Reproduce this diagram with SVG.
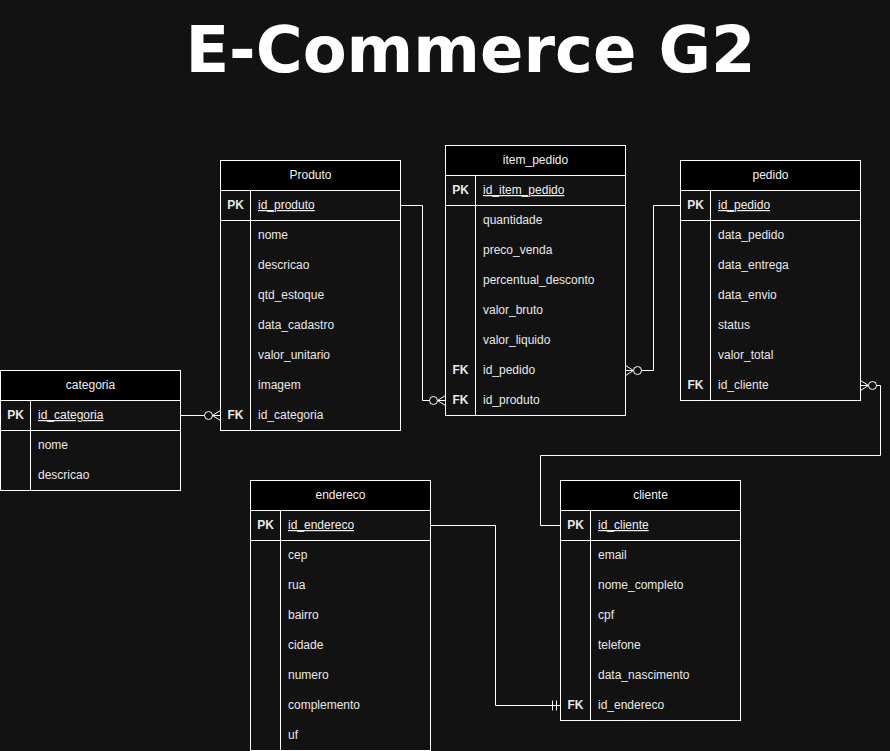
<svg xmlns="http://www.w3.org/2000/svg" width="890" height="751" viewBox="0 0 890 751">
<style>
.bg{fill:#121212}
.hd{fill:#000;stroke:#fff;stroke-width:1}
.bd{fill:#121212;stroke:#fff;stroke-width:1}
.ln{stroke:#fff;stroke-width:1;fill:none}
.t{font-family:"Liberation Sans",Arial,sans-serif;font-size:12px;fill:#e8e8e8}
.h{font-family:"Liberation Sans",Arial,sans-serif;font-size:12px;fill:#f0f0f0;text-anchor:middle}
.k{font-family:"Liberation Sans",Arial,sans-serif;font-size:12px;font-weight:bold;fill:#e8e8e8;text-anchor:middle}
.pk{text-decoration:underline;fill:#f0f0f0}
.title{font-family:"DejaVu Sans",sans-serif;font-size:64px;font-weight:bold;fill:#fff;text-anchor:middle}
.c{stroke:#fff;stroke-width:1;fill:none}
.o{stroke:#fff;stroke-width:1;fill:#121212}
</style>
<rect class="bg" x="0" y="0" width="890" height="751"/>
<text class="title" x="470.5" y="72">E-Commerce G2</text>

<g id="connectors">
  <!-- categoria -> Produto -->
  <path class="c" d="M180.5 415.5 H220.5"/>
  <path class="c" d="M212.5 415.5 L220.5 410.5 M212.5 415.5 L220.5 415.5 M212.5 415.5 L220.5 420.5"/>
  <circle class="o" cx="208.5" cy="415.5" r="4"/>
  <!-- Produto -> item_pedido -->
  <path class="c" d="M400.5 205.5 H422.5 V400.5 H445.5"/>
  <path class="c" d="M437.5 400.5 L445.5 395.5 M437.5 400.5 L445.5 405.5"/>
  <circle class="o" cx="433.5" cy="400.5" r="4"/>
  <!-- pedido -> item_pedido -->
  <path class="c" d="M680.5 205.5 H653.5 V370.5 H625.5"/>
  <path class="c" d="M633.5 370.5 L625.5 365.5 M633.5 370.5 L625.5 375.5"/>
  <circle class="o" cx="637.5" cy="370.5" r="4"/>
  <!-- pedido -> cliente -->
  <path class="c" d="M860.5 385.5 H880.5 V455.5 H540.5 V525.5 H560.5"/>
  <path class="c" d="M868.5 385.5 L860.5 380.5 M868.5 385.5 L860.5 390.5"/>
  <circle class="o" cx="872.5" cy="385.5" r="4"/>
  <!-- endereco -> cliente -->
  <path class="c" d="M430.5 525.5 H495.5 V705.5 H560.5"/>
  <path class="c" d="M552.5 700.5 V710.5 M556.5 700.5 V710.5"/>
</g>

<g id="Produto">
  <rect class="hd" x="220.5" y="160.5" width="180" height="30"/>
  <text class="h" x="310.5" y="179">Produto</text>
  <rect class="bd" x="220.5" y="190.5" width="180" height="240"/>
  <path class="ln" d="M220.5 220.5 H400.5 M250.5 190.5 V430.5"/>
  <text class="k" x="235.5" y="209">PK</text>
  <text class="t pk" x="258" y="209">id_produto</text>
  <text class="t" x="258" y="239">nome</text>
  <text class="t" x="258" y="269">descricao</text>
  <text class="t" x="258" y="299">qtd_estoque</text>
  <text class="t" x="258" y="329">data_cadastro</text>
  <text class="t" x="258" y="359">valor_unitario</text>
  <text class="t" x="258" y="389">imagem</text>
  <text class="k" x="235.5" y="419">FK</text>
  <text class="t" x="258" y="419">id_categoria</text>
</g>

<g id="item_pedido">
  <rect class="hd" x="445.5" y="145.5" width="180" height="30"/>
  <text class="h" x="535.5" y="164">item_pedido</text>
  <rect class="bd" x="445.5" y="175.5" width="180" height="240"/>
  <path class="ln" d="M445.5 205.5 H625.5 M475.5 175.5 V415.5"/>
  <text class="k" x="460.5" y="194">PK</text>
  <text class="t pk" x="483" y="194">id_item_pedido</text>
  <text class="t" x="483" y="224">quantidade</text>
  <text class="t" x="483" y="254">preco_venda</text>
  <text class="t" x="483" y="284">percentual_desconto</text>
  <text class="t" x="483" y="314">valor_bruto</text>
  <text class="t" x="483" y="344">valor_liquido</text>
  <text class="k" x="460.5" y="374">FK</text>
  <text class="t" x="483" y="374">id_pedido</text>
  <text class="k" x="460.5" y="404">FK</text>
  <text class="t" x="483" y="404">id_produto</text>
</g>

<g id="pedido">
  <rect class="hd" x="680.5" y="160.5" width="180" height="30"/>
  <text class="h" x="770.5" y="179">pedido</text>
  <rect class="bd" x="680.5" y="190.5" width="180" height="210"/>
  <path class="ln" d="M680.5 220.5 H860.5 M710.5 190.5 V400.5"/>
  <text class="k" x="695.5" y="209">PK</text>
  <text class="t pk" x="718" y="209">id_pedido</text>
  <text class="t" x="718" y="239">data_pedido</text>
  <text class="t" x="718" y="269">data_entrega</text>
  <text class="t" x="718" y="299">data_envio</text>
  <text class="t" x="718" y="329">status</text>
  <text class="t" x="718" y="359">valor_total</text>
  <text class="k" x="695.5" y="389">FK</text>
  <text class="t" x="718" y="389">id_cliente</text>
</g>

<g id="categoria">
  <rect class="hd" x="0.5" y="370.5" width="180" height="30"/>
  <text class="h" x="90.5" y="389">categoria</text>
  <rect class="bd" x="0.5" y="400.5" width="180" height="90"/>
  <path class="ln" d="M0.5 430.5 H180.5 M30.5 400.5 V490.5"/>
  <text class="k" x="15.5" y="419">PK</text>
  <text class="t pk" x="38" y="419">id_categoria</text>
  <text class="t" x="38" y="449">nome</text>
  <text class="t" x="38" y="479">descricao</text>
</g>

<g id="endereco">
  <rect class="hd" x="250.5" y="480.5" width="180" height="30"/>
  <text class="h" x="340.5" y="499">endereco</text>
  <rect class="bd" x="250.5" y="510.5" width="180" height="240"/>
  <path class="ln" d="M250.5 540.5 H430.5 M280.5 510.5 V750.5"/>
  <text class="k" x="265.5" y="529">PK</text>
  <text class="t pk" x="288" y="529">id_endereco</text>
  <text class="t" x="288" y="559">cep</text>
  <text class="t" x="288" y="589">rua</text>
  <text class="t" x="288" y="619">bairro</text>
  <text class="t" x="288" y="649">cidade</text>
  <text class="t" x="288" y="679">numero</text>
  <text class="t" x="288" y="709">complemento</text>
  <text class="t" x="288" y="739">uf</text>
</g>

<g id="cliente">
  <rect class="hd" x="560.5" y="480.5" width="180" height="30"/>
  <text class="h" x="650.5" y="499">cliente</text>
  <rect class="bd" x="560.5" y="510.5" width="180" height="210"/>
  <path class="ln" d="M560.5 540.5 H740.5 M590.5 510.5 V720.5"/>
  <text class="k" x="575.5" y="529">PK</text>
  <text class="t pk" x="598" y="529">id_cliente</text>
  <text class="t" x="598" y="559">email</text>
  <text class="t" x="598" y="589">nome_completo</text>
  <text class="t" x="598" y="619">cpf</text>
  <text class="t" x="598" y="649">telefone</text>
  <text class="t" x="598" y="679">data_nascimento</text>
  <text class="k" x="575.5" y="709">FK</text>
  <text class="t" x="598" y="709">id_endereco</text>
</g>
</svg>
